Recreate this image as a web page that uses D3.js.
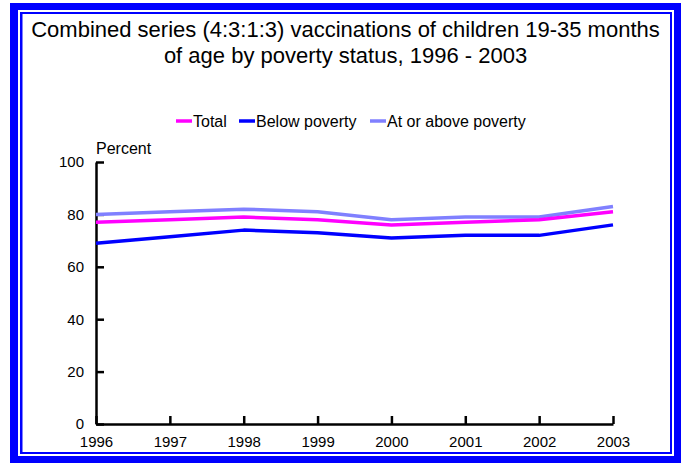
<!DOCTYPE html>
<html>
<head>
<meta charset="utf-8">
<title>Vaccinations by poverty status</title>
<script src="https://d3js.org/d3.v7.min.js"></script>
<style>
  body { margin: 0; background: #fff; }
  svg text { font-family: "Liberation Sans", Arial, sans-serif; fill: #000; }
  .axis path, .axis line { stroke: #000; stroke-width: 2.5; }
  .axis text { font-size: 15px; }
</style>
</head>
<body>
<svg id="chart" width="681" height="463"></svg>
<script>
// data
var years = [1996, 1997, 1998, 1999, 2000, 2001, 2002, 2003];
var total = [77, 78, 79, 78, 76, 77, 78, 81];
var belowPoverty = [69, 71.5, 74, 73, 71, 72, 72, 76];
var atOrAbove = [80, 81, 82, 81, 78, 79, 79, 83];
var yTicks = [0, 20, 40, 60, 80, 100];
var titleLines = ["Combined series (4:3:1:3) vaccinations of children 19-35 months",
                  "of age by poverty status, 1996 - 2003"];

var series = [
  {name: "Total", values: total, color: "#ff00ff"},
  {name: "Below poverty", values: belowPoverty, color: "#0000ff"},
  {name: "At or above poverty", values: atOrAbove, color: "#8080ff"}
];

var svg = d3.select("#chart");

// double blue frame
svg.append("rect").attr("x", 10).attr("y", 3).attr("width", 671).attr("height", 460).attr("fill", "#0000ff");
svg.append("rect").attr("x", 18).attr("y", 10).attr("width", 656).attr("height", 446).attr("fill", "#fff");
svg.append("rect").attr("x", 20).attr("y", 12).attr("width", 652).attr("height", 442).attr("fill", "#0000ff");
svg.append("rect").attr("x", 22.5).attr("y", 14).attr("width", 647.5).attr("height", 438).attr("fill", "#fff");

// title
svg.append("g").selectAll("text")
  .data(titleLines)
  .enter().append("text")
    .attr("x", 345.5)
    .attr("y", function(d, i) { return 37 + i * 25.5; })
    .attr("text-anchor", "middle")
    .style("font-size", "22px")
    .text(function(d) { return d; });

// scales
var x = d3.scaleLinear().domain([1996, 2003]).range([96, 613]);
var y = d3.scaleLinear().domain([0, 100]).range([424, 162]);

// axes, ticks pointing inward
svg.append("g")
  .attr("class", "axis")
  .attr("transform", "translate(0,424)")
  .call(d3.axisBottom(x).tickValues(years).tickFormat(d3.format("d"))
    .tickSizeInner(-8).tickSizeOuter(0).tickPadding(12));

svg.append("g")
  .attr("class", "axis")
  .attr("transform", "translate(96,0)")
  .call(d3.axisLeft(y).tickValues(yTicks)
    .tickSizeInner(-8).tickSizeOuter(0).tickPadding(12));

svg.append("text")
  .attr("x", 96).attr("y", 154)
  .style("font-size", "16px")
  .text("Percent");

// lines
var line = d3.line()
  .x(function(d, i) { return x(years[i]); })
  .y(function(d) { return y(d); });

svg.append("g").selectAll("path")
  .data(series.slice().reverse())
  .enter().append("path")
    .attr("d", function(d) { return line(d.values); })
    .attr("fill", "none")
    .attr("stroke", function(d) { return d.color; })
    .attr("stroke-width", 3.5)
    .attr("stroke-linejoin", "round");

// legend
var legendX = [176, 239, 370];
var legend = svg.append("g").selectAll("g")
  .data(series)
  .enter().append("g")
    .attr("transform", function(d, i) { return "translate(" + legendX[i] + ",121)"; });
legend.append("line")
  .attr("x1", 0).attr("x2", 16)
  .attr("stroke", function(d) { return d.color; })
  .attr("stroke-width", 3.5);
legend.append("text")
  .attr("x", 17).attr("y", 6)
  .style("font-size", "16px")
  .text(function(d) { return d.name; });
</script>
</body>
</html>
